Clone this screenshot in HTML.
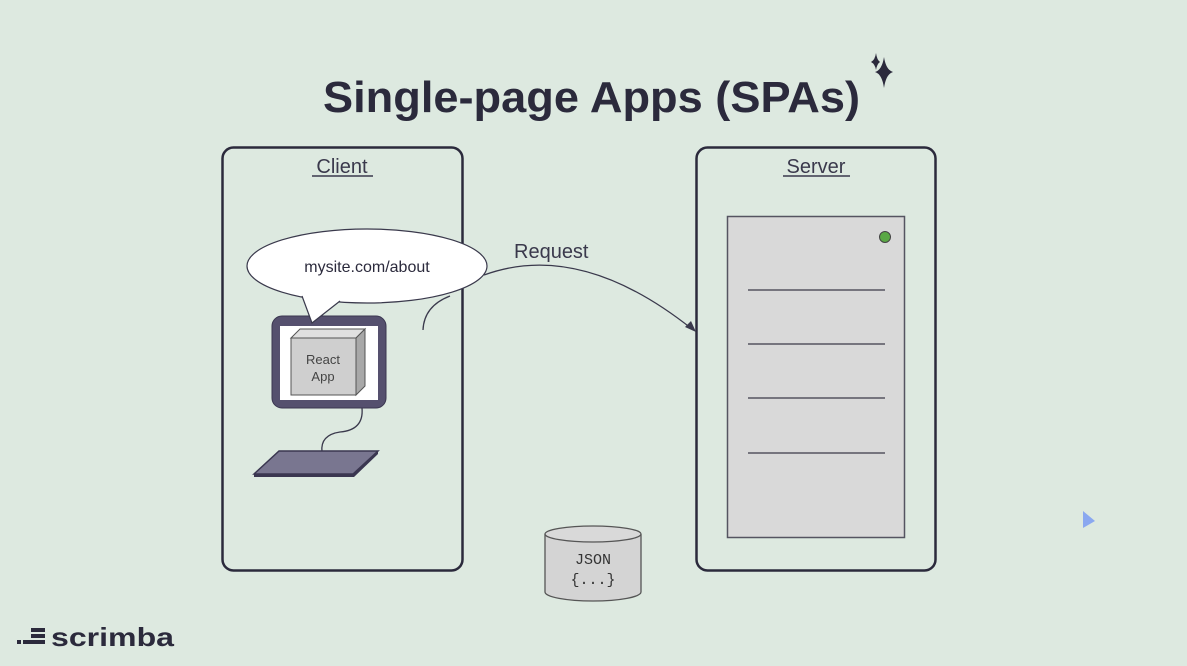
<!DOCTYPE html>
<html><head><meta charset="utf-8"><style>
html,body{margin:0;padding:0;background:#dde9e0;}
svg{display:block;}
text{font-family:"Liberation Sans",sans-serif;}
text.mono{font-family:"Liberation Mono",monospace;}
</style></head><body>
<svg width="1187" height="666" viewBox="0 0 1187 666" xmlns="http://www.w3.org/2000/svg">
<rect width="1187" height="666" fill="#dde9e0"/>
<text x="323" y="112" font-size="44" font-weight="bold" fill="#2b2a3c" textLength="537" lengthAdjust="spacingAndGlyphs">Single-page Apps (SPAs)</text>
<path d="M884,57 Q886,70 893,72 Q886,74 884,88 Q882,74 875,72 Q882,70 884,57Z" fill="#2b2a3c"/>
<path d="M876,53 Q877,60 880,62 Q877,64 876,70 Q875,64 871,62 Q875,60 876,53Z" fill="#2b2a3c"/>
<rect x="222.5" y="147.5" width="240" height="423" rx="11" fill="none" stroke="#2b2a3c" stroke-width="2.5"/>
<rect x="696.5" y="147.5" width="239" height="423" rx="11" fill="none" stroke="#2b2a3c" stroke-width="2.5"/>
<text x="342" y="173" font-size="20" fill="#3a394c" text-anchor="middle">Client</text>
<line x1="312" y1="176" x2="373" y2="176" stroke="#3a394c" stroke-width="1.5"/>
<text x="816" y="173" font-size="20" fill="#3a394c" text-anchor="middle">Server</text>
<line x1="783" y1="176" x2="850" y2="176" stroke="#3a394c" stroke-width="1.5"/>
<rect x="727.5" y="216.5" width="177" height="321" fill="#d9d9d9" stroke="#555461" stroke-width="1.5"/>
<circle cx="885" cy="237" r="5.5" fill="#5aa845" stroke="#444" stroke-width="1"/>
<g stroke="#555461" stroke-width="1.5">
<line x1="748" y1="290" x2="885" y2="290"/>
<line x1="748" y1="344" x2="885" y2="344"/>
<line x1="748" y1="398" x2="885" y2="398"/>
<line x1="748" y1="453" x2="885" y2="453"/>
</g>
<path d="M423,330 Q424,306 450,296" fill="none" stroke="#3a394c" stroke-width="1.3"/>
<path d="M484,275 Q580,240 692,329" fill="none" stroke="#3a394c" stroke-width="1.3"/>
<path d="M696,332 L685,327 L691,321 Z" fill="#3a394c"/>
<text x="514" y="258" font-size="20" fill="#3a394c">Request</text>
<rect x="272" y="316" width="114" height="92" rx="10" fill="#55506e" stroke="#3a3650" stroke-width="1"/>
<rect x="280" y="326" width="98" height="74" fill="#fff"/>
<path d="M291,338 L300,329 L365,329 L356,338 Z" fill="#e0e0e0" stroke="#555" stroke-width="1"/>
<path d="M356,338 L365,329 L365,386 L356,395 Z" fill="#a8a8a8" stroke="#555" stroke-width="1"/>
<rect x="291" y="338" width="65" height="57" fill="#cfcfcf" stroke="#555" stroke-width="1"/>
<text x="323" y="364" font-size="13" fill="#444" text-anchor="middle">React</text>
<text x="323" y="381" font-size="13" fill="#444" text-anchor="middle">App</text>
<ellipse cx="367" cy="266" rx="120" ry="37" fill="#fff" stroke="#3a394c" stroke-width="1.2"/>
<path d="M302,296 L312,323 L340,301" fill="#fff" stroke="#3a394c" stroke-width="1.2"/>
<path d="M303,294 L339,299 L320,288 Z" fill="#fff"/>
<text x="367" y="272" font-size="16" fill="#2b2a3c" text-anchor="middle">mysite.com/about</text>
<path d="M362,408 Q364,430 340,432 Q320,435 322,452" fill="none" stroke="#3a394c" stroke-width="1.3"/>
<path d="M254,474 L279,451 L378,451 L353,474 Z" fill="#797690" stroke="#3a3650" stroke-width="1.5"/>
<path d="M254,474 L353,474 L378,451 L378,454 L354,477 L254,477 Z" fill="#3a3650"/>
<path d="M545,534 L545,592 A48,9 0 0 0 641,592 L641,534" fill="#d4d4d4" stroke="#555" stroke-width="1.3"/>
<ellipse cx="593" cy="534" rx="48" ry="8" fill="#d9d9d9" stroke="#555" stroke-width="1.3"/>
<text class="mono" x="593" y="564" font-size="15" fill="#333" text-anchor="middle">JSON</text>
<text class="mono" x="593" y="584" font-size="15" fill="#333" text-anchor="middle" xml:space="preserve">{...}</text>
<path d="M1083,511 L1095,521 L1083,528 Z" fill="#8aa8f0"/>
<g fill="#2b2a3c">
<rect x="17" y="640" width="4" height="4"/>
<rect x="31" y="634" width="14" height="4"/>
<rect x="31" y="628" width="14" height="4"/>
<rect x="23" y="640" width="22" height="4"/>
</g>
<text x="51" y="646" font-size="26" font-weight="bold" fill="#2b2a3c" textLength="123" lengthAdjust="spacingAndGlyphs">scrimba</text>
</svg>
</body></html>
